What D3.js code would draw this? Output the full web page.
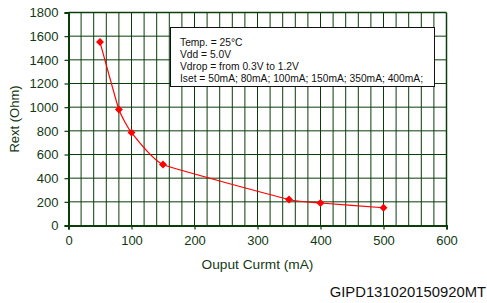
<!DOCTYPE html>
<html><head><meta charset="utf-8">
<script src="https://cdn.jsdelivr.net/npm/d3@7"></script>
<style>body{margin:0;background:#fff;} svg{display:block;}</style>
</head><body>
<script>
const current = [50, 80, 100, 150, 350, 400, 500];
const rext = [1550, 980, 785, 515, 220, 190, 150];
const xTicks = [0, 100, 200, 300, 400, 500, 600];
const yTicks = [0, 200, 400, 600, 800, 1000, 1200, 1400, 1600, 1800];
const notes = ["Temp. = 25°C", "Vdd = 5.0V", "Vdrop = from 0.3V to 1.2V", "Iset = 50mA; 80mA; 100mA; 150mA; 350mA; 400mA;"];
const xTitle = "Ouput Curmt (mA)";
const yTitle = "Rext (Ohm)";
const code = "GIPD131020150920MT";

const W = 487, H = 303;
const m = {l: 68.5, r: 446.5, t: 12.5, b: 225.5};
const grid = "#0b3d0b", txt = "#123a12";
const svg = d3.select("body").append("svg").attr("width", W).attr("height", H);
const x = d3.scaleLinear().domain([0, 600]).range([m.l, m.r]);
const y = d3.scaleLinear().domain([0, 1800]).range([m.b, m.t]);

svg.append("g").selectAll("line").data(d3.range(20, 601, 20)).join("line")
  .attr("x1", d => x(d)).attr("x2", d => x(d)).attr("y1", m.t).attr("y2", m.b)
  .attr("stroke", grid).attr("stroke-width", d => d === 600 ? 1.5 : 1);
svg.append("g").selectAll("line").data(yTicks.slice(1)).join("line")
  .attr("x1", m.l).attr("x2", m.r).attr("y1", d => y(d)).attr("y2", d => y(d))
  .attr("stroke", grid).attr("stroke-width", d => d === 1800 ? 1.5 : 1);

const font = "'Liberation Sans', Arial, sans-serif";
const xa = svg.append("g").attr("transform", `translate(0,${m.b})`)
  .call(d3.axisBottom(x).tickValues(xTicks).tickFormat(d3.format("d")).tickSize(4).tickPadding(6));
const ya = svg.append("g").attr("transform", `translate(${m.l},0)`)
  .call(d3.axisLeft(y).tickValues(yTicks).tickFormat(d3.format("d")).tickSize(4).tickPadding(6));
[xa, ya].forEach(a => {
  a.select(".domain").attr("stroke", grid).attr("stroke-width", 2);
  a.selectAll(".tick line").attr("stroke", grid).attr("stroke-width", 1.2);
  a.selectAll("text").attr("fill", txt).style("font-family", font).style("font-size", "13px");
});

const bx = 170.5, by = 27.5, bw = 264, bh = 59;
svg.append("rect").attr("x", bx).attr("y", by).attr("width", bw).attr("height", bh)
  .attr("fill", "#fff").attr("stroke", "#111").attr("stroke-width", 1);
svg.append("g").selectAll("text").data(notes).join("text")
  .attr("x", 180).attr("y", (d, i) => 45.5 + i * 12.3)
  .attr("fill", "#111").style("font-family", font).style("font-size", "10.25px")
  .text(d => d);

const pts = current.map((c, i) => [c, rext[i]]);
svg.append("path").datum(pts)
  .attr("d", d3.line().x(d => x(d[0])).y(d => y(d[1])).curve(d3.curveCardinal.tension(0.6)))
  .attr("fill", "none").attr("stroke", "#ff0000").attr("stroke-width", 1.2);
svg.append("g").selectAll("path").data(pts).join("path")
  .attr("d", d3.symbol(d3.symbolDiamond2, 40))
  .attr("transform", d => `translate(${x(d[0])},${y(d[1])})`)
  .attr("fill", "#ff0000");

svg.append("text").attr("x", (m.l + m.r) / 2).attr("y", 269)
  .attr("text-anchor", "middle").attr("fill", txt)
  .style("font-family", font).style("font-size", "13.7px").text(xTitle);
svg.append("text").attr("transform", `translate(19,${(m.t + m.b) / 2}) rotate(-90)`)
  .attr("text-anchor", "middle").attr("fill", txt)
  .style("font-family", font).style("font-size", "13px").text(yTitle);
svg.append("text").attr("x", 486).attr("y", 297)
  .attr("text-anchor", "end").attr("fill", "#111")
  .style("font-family", font).style("font-size", "14.8px").text(code);
</script>
</body></html>
